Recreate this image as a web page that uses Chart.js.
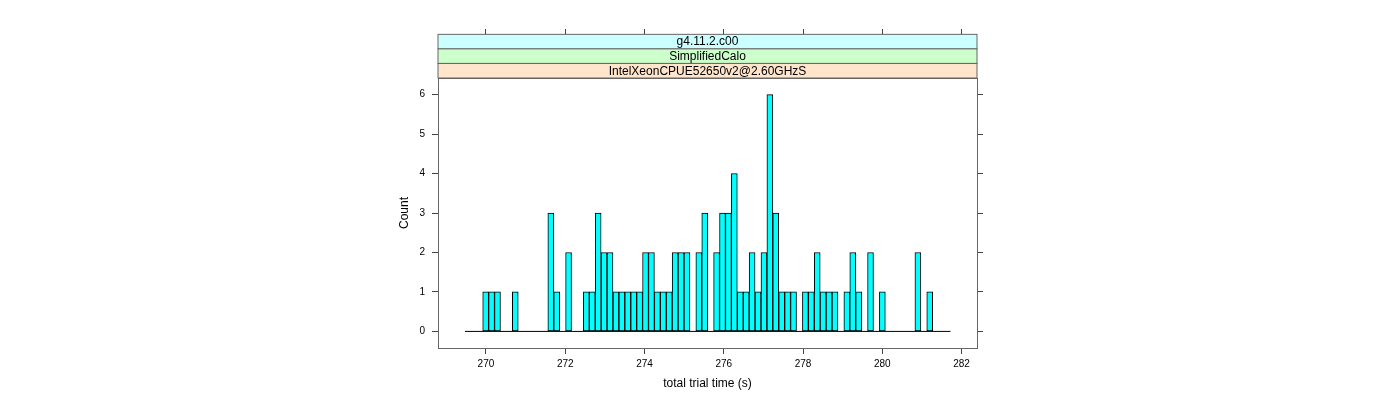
<!DOCTYPE html>
<html>
<head>
<meta charset="utf-8">
<script src="https://cdn.jsdelivr.net/npm/chart.js@4/dist/chart.umd.min.js"></script>
<style>
html,body{margin:0;padding:0;background:#fff;}
#c{display:block;}
</style>
</head>
<body>
<canvas id="c" width="1400" height="400"></canvas>
<script>
// ---- data ----
const binStart = 269.47;   // left edge of first bin (s)
const binEnd = 281.72;     // right edge of last bin (s)
const counts = [0,0,0,1,1,1,0,0,1,0, 0,0,0,0,3,1,0,2,0,0,
                1,1,3,2,2,1,1,1,1,1, 2,2,1,1,1,2,2,2,0,2,
                3,0,2,3,3,4,1,1,2,1, 2,6,3,1,1,1,0,1,1,2,
                1,1,1,0,1,2,1,0,2,0, 1,0,0,0,0,0,2,0,1,0,
                0,0];
const xTicks = [270,272,274,276,278,280,282];
const yTicks = [0,1,2,3,4,5,6];
const xRange = [268.79, 282.39];
const yRange = [-0.42, 6.42];
const stripLabels = ["g4.11.2.c00", "SimplifiedCalo", "IntelXeonCPUE52650v2@2.60GHzS"];
const stripColors = ["#ccffff", "#ccffcc", "#ffe5cc"];
const xTitle = "total trial time (s)";
const yTitle = "Count";

const binWidth = (binEnd - binStart) / counts.length;
const barData = counts.map((c, i) => ({x: binStart + (i + 0.5) * binWidth, y: c}));

const FONT = "'Liberation Sans', Arial, Helvetica, sans-serif";
const TICKC = "#444";
const BORDERC = "#666";

const stripPlugin = {
  id: 'strips',
  afterDraw(chart) {
    const ctx = chart.ctx;
    const a = chart.chartArea;
    const h = 14.55;
    ctx.save();
    ctx.font = "12px " + FONT;
    ctx.textAlign = "center";
    ctx.textBaseline = "middle";
    for (let i = 0; i < stripLabels.length; i++) {
      const y = a.top - (stripLabels.length - i) * h;
      ctx.fillStyle = stripColors[i];
      ctx.fillRect(a.left, y, a.right - a.left, h);
      ctx.strokeStyle = BORDERC;
      ctx.lineWidth = 1;
      ctx.strokeRect(a.left, y, a.right - a.left, h);
      ctx.fillStyle = "#000";
      ctx.fillText(stripLabels[i], (a.left + a.right) / 2, y + h / 2 + 0.5);
    }
    ctx.restore();
  }
};

const setTicks = (vals) => (scale) => { scale.ticks = vals.map(v => ({value: v})); };

new Chart(document.getElementById('c'), {
  data: {
    datasets: [
      {
        type: 'line',
        data: [{x: binStart, y: 0}, {x: binEnd, y: 0}],
        borderColor: '#000',
        borderWidth: 1,
        pointRadius: 0,
        order: 0,
        xAxisID: 'x', yAxisID: 'y'
      },
      {
        type: 'bar',
        data: barData,
        backgroundColor: '#00ffff',
        borderColor: '#000',
        borderWidth: 1,
        borderSkipped: false,
        barPercentage: 1,
        categoryPercentage: 1,
        order: 1,
        xAxisID: 'x', yAxisID: 'y'
      }
    ]
  },
  options: {
    responsive: false,
    animation: false,
    devicePixelRatio: 1,
    layout: {padding: {left: 378, right: 417, top: 29, bottom: 0}},
    plugins: {legend: {display: false}, tooltip: {enabled: false}},
    scales: {
      x: {
        type: 'linear', position: 'bottom', min: xRange[0], max: xRange[1], offset: false,
        afterBuildTicks: setTicks(xTicks),
        afterFit: (s) => { s.height = 52; },
        ticks: {font: {family: FONT, size: 10}, color: '#000', padding: 4, maxRotation: 0},
        grid: {offset: false, drawOnChartArea: false, drawTicks: true, tickLength: 6, color: TICKC},
        border: {display: true, color: BORDERC},
        title: {display: true, text: xTitle, color: '#000', font: {family: FONT, size: 12}, padding: {top: 0, bottom: 8.8}}
      },
      x2: {
        type: 'linear', position: 'top', min: xRange[0], max: xRange[1], offset: false,
        afterBuildTicks: setTicks(xTicks),
        afterFit: (s) => { s.height = 49; },
        ticks: {display: false},
        grid: {offset: false, drawOnChartArea: false, drawTicks: true, tickLength: 49, color: TICKC},
        border: {display: true, color: BORDERC}
      },
      y: {
        type: 'linear', position: 'left', min: yRange[0], max: yRange[1],
        afterBuildTicks: setTicks(yTicks),
        afterFit: (s) => { s.width = 60; },
        ticks: {font: {family: FONT, size: 10}, color: '#000', padding: 7},
        grid: {drawOnChartArea: false, drawTicks: true, tickLength: 6, color: TICKC},
        border: {display: true, color: BORDERC},
        title: {display: true, text: yTitle, color: '#000', font: {family: FONT, size: 12}, padding: {top: 19.8, bottom: 0}}
      },
      y2: {
        type: 'linear', position: 'right', min: yRange[0], max: yRange[1],
        afterBuildTicks: setTicks(yTicks),
        afterFit: (s) => { s.width = 6; },
        ticks: {display: false},
        grid: {drawOnChartArea: false, drawTicks: true, tickLength: 6, color: TICKC},
        border: {display: true, color: BORDERC}
      }
    }
  },
  plugins: [stripPlugin]
});
</script>
</body>
</html>
